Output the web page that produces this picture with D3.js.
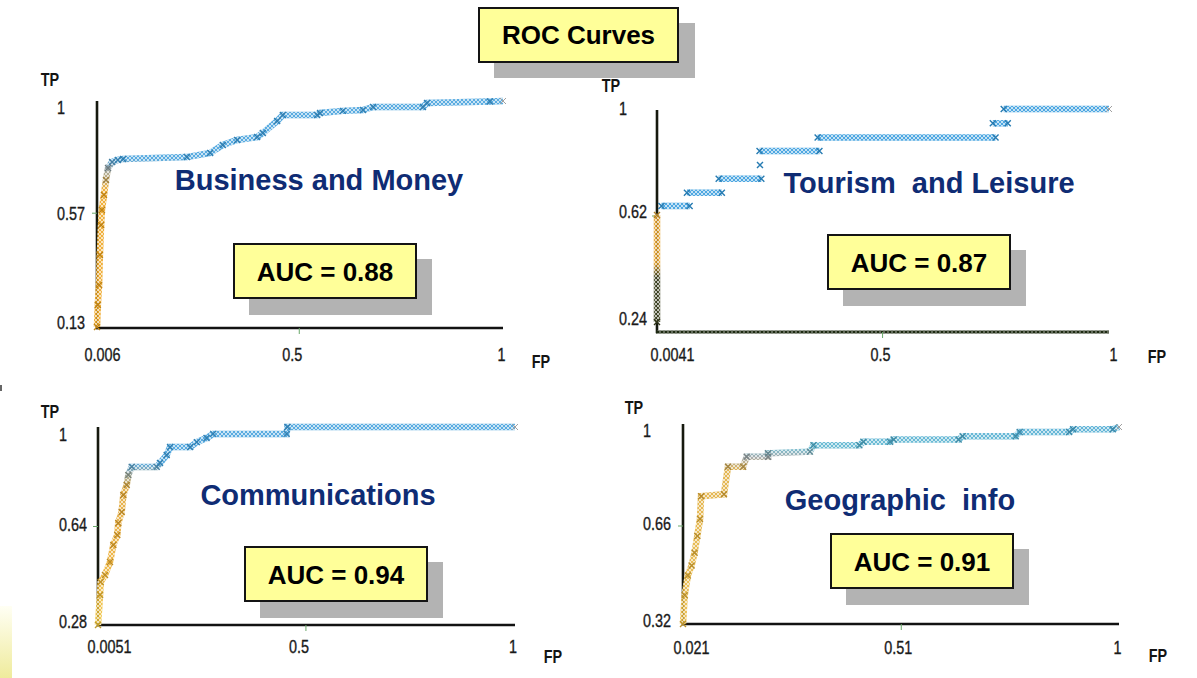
<!DOCTYPE html>
<html>
<head>
<meta charset="utf-8">
<script src="https://cdn.jsdelivr.net/npm/d3@7"></script>
<style>
  html, body { margin: 0; padding: 0; background: #fff; }
  svg { display: block; }
  text { font-family: "Liberation Sans", Arial, sans-serif; }
</style>
</head>
<body>
<svg id="chart" width="1197" height="678"></svg>
<script>
// ---------- data ----------
const chartTitle = "ROC Curves";
const panelTitles = ["Business and Money", "Tourism  and Leisure", "Communications", "Geographic  info"];
const aucValues = [0.88, 0.87, 0.94, 0.91];
const fpTicks = [[0.006, 0.5, 1], [0.0041, 0.5, 1], [0.0051, 0.5, 1], [0.021, 0.51, 1]];
const tpTicks = [[0.13, 0.57, 1], [0.24, 0.62, 1], [0.28, 0.64, 1], [0.32, 0.66, 1]];

// ROC points as [FP, TP]; each panel holds one or more runs of points
const businessRuns = [[
  [0.006, 0.13], [0.008, 0.215], [0.011, 0.292], [0.013, 0.407], [0.016, 0.523], [0.018, 0.580],
  [0.023, 0.638], [0.028, 0.696], [0.033, 0.742], [0.043, 0.765], [0.057, 0.773], [0.070, 0.777],
  [0.226, 0.784], [0.283, 0.800], [0.314, 0.831], [0.349, 0.850], [0.398, 0.861], [0.412, 0.877],
  [0.447, 0.923], [0.461, 0.946], [0.545, 0.946], [0.552, 0.954], [0.608, 0.962], [0.657, 0.965],
  [0.682, 0.977], [0.804, 0.977], [0.814, 0.992], [0.968, 0.998], [1, 1]
]];
const tourismRuns = [
  [[0.0041, 0.24], [0.0041, 0.622]],
  [[0.014, 0.654], [0.076, 0.654]],
  [[0.070, 0.701], [0.147, 0.701]],
  [[0.140, 0.751], [0.234, 0.751]],
  [[0.231, 0.800]],
  [[0.230, 0.850], [0.362, 0.850]],
  [[0.358, 0.898], [0.750, 0.898]],
  [[0.744, 0.949], [0.777, 0.949]],
  [[0.768, 1], [1, 1]]
];
const communicationsRuns = [[
  [0.0051, 0.28], [0.0099, 0.389], [0.0115, 0.436], [0.0218, 0.462], [0.0337, 0.509], [0.0416, 0.571],
  [0.0511, 0.607], [0.0535, 0.651], [0.0616, 0.691], [0.0655, 0.753], [0.0736, 0.789], [0.0774, 0.825],
  [0.0855, 0.855], [0.1452, 0.855], [0.153, 0.869], [0.169, 0.898], [0.177, 0.927], [0.225, 0.927],
  [0.241, 0.945], [0.264, 0.960], [0.280, 0.975], [0.455, 0.975], [0.457, 1], [1, 1]
]];
const geographicRuns = [[
  [0.021, 0.32], [0.0248, 0.419], [0.0318, 0.487], [0.0403, 0.522], [0.047, 0.566], [0.0531, 0.624],
  [0.0592, 0.682], [0.0616, 0.761], [0.113, 0.768], [0.122, 0.863], [0.156, 0.863], [0.164, 0.897],
  [0.212, 0.897], [0.212, 0.909], [0.306, 0.915], [0.314, 0.937], [0.417, 0.937], [0.426, 0.949],
  [0.486, 0.949], [0.494, 0.957], [0.640, 0.957], [0.649, 0.968], [0.768, 0.968], [0.777, 0.983],
  [0.888, 0.983], [0.897, 0.992], [0.986, 0.992], [1, 1]
]];
const panelRuns = [businessRuns, tourismRuns, communicationsRuns, geographicRuns];

// ---------- layout & style ----------
const layout = [
  { xRange: [97, 503], yRange: [327, 101], axisTop: 101, axisY: 328,
    yLabelX: 57, yLabelDy: [-5, 0, 6], xLabelY: 355, xLabelDx: [-13, -7, -2],
    tp: [50, 80], fp: [541, 362], titleAt: [319, 190], box: [234, 244], hatchAxis: false,
    stops: [[0.13, "#eda21a"], [0.66, "#eda21a"], [0.74, "#8c9a9c"], [0.775, "#3d9ddb"], [1, "#3d9ddb"]] },
  { xRange: [657, 1109], yRange: [322, 109], axisTop: 110, axisY: 332,
    yLabelX: 619, yLabelDy: [-4, -4.5, -1], xLabelY: 355, xLabelDx: [-7, -2, 4],
    tp: [611, 86], fp: [1157, 357], titleAt: [929, 193], box: [828, 235], hatchAxis: true,
    stops: [[0.24, "#3d4220"], [0.40, "#3d4220"], [0.45, "#e39e26"], [0.62, "#e39e26"], [0.645, "#2f98dc"], [1, "#2f98dc"]] },
  { xRange: [98, 515], yRange: [625, 427], axisTop: 427, axisY: 625,
    yLabelX: 59, yLabelDy: [-4, -2, 7], xLabelY: 647, xLabelDx: [-11, -7, -2.5],
    tp: [50, 412], fp: [553, 657], titleAt: [318, 505], box: [245, 547], hatchAxis: false,
    stops: [[0.28, "#eec23a"], [0.55, "#eaa82a"], [0.78, "#e0a430"], [0.83, "#8a9c98"], [0.87, "#3d9ddb"], [1, "#3d9ddb"]] },
  { xRange: [683, 1119], yRange: [624, 427], axisTop: 424, axisY: 624,
    yLabelX: 643, yLabelDy: [-4, -2.5, 3], xLabelY: 648, xLabelDx: [-10, -3, -2],
    tp: [634, 408], fp: [1158, 656], titleAt: [900, 510], box: [831, 534], hatchAxis: false,
    stops: [[0.32, "#e8b63a"], [0.85, "#dfa935"], [0.895, "#9aa0a0"], [0.93, "#55b2cc"], [1, "#48a8d2"]] }
];
const NARROW = 0.8;          // horizontal squeeze for the narrow axis lettering
const BOX_W = 182, BOX_H = 54;
const BAND = 6.5;

const svg = d3.select("#chart");
const defs = svg.append("defs");

// cross-hatch used to give the curve bands their chain-like texture
const hatch = defs.append("pattern").attr("id", "hatch")
  .attr("patternUnits", "userSpaceOnUse").attr("width", 4).attr("height", 4);
hatch.append("path").attr("d", "M0,0L4,4M4,0L0,4")
  .attr("stroke", "#fff").attr("stroke-width", 0.9).attr("stroke-opacity", 0.75);

// faint yellow strip at the lower left edge
const strip = defs.append("linearGradient").attr("id", "strip")
  .attr("x1", 0).attr("x2", 0).attr("y1", 0).attr("y2", 1);
strip.append("stop").attr("offset", 0).attr("stop-color", "#fffff4");
strip.append("stop").attr("offset", 1).attr("stop-color", "#efeb9c");
svg.append("rect").attr("x", 0).attr("y", 606).attr("width", 12).attr("height", 72).attr("fill", "url(#strip)");
svg.append("rect").attr("x", 0).attr("y", 385).attr("width", 2).attr("height", 6).attr("fill", "#666");

function narrowText(parent, x, y, str, size, weight, anchor) {
  return parent.append("text")
    .attr("transform", `translate(${x},${y}) scale(${NARROW},1)`)
    .attr("text-anchor", anchor || "middle")
    .attr("dy", "0.35em")
    .attr("font-size", size).attr("font-weight", weight || "normal")
    .attr("fill", "#141414")
    .text(str);
}

function xMark() {
  const s = 3;
  return `M${-s},${-s}L${s},${s}M${-s},${s}L${s},${-s}`;
}

function styleTickText(sel) {
  sel.attr("dy", "0.35em")
    .attr("transform", `scale(${NARROW},1)`)
    .attr("font-size", 18).attr("font-family", "Liberation Sans, Arial, sans-serif")
    .attr("fill", "#1a1a1a").attr("stroke", "#1a1a1a").attr("stroke-width", 0.35);
}

layout.forEach((L, i) => {
  const fpMin = fpTicks[i][0], tpMin = tpTicks[i][0];
  const x = d3.scaleLinear().domain([fpMin, 1]).range(L.xRange);
  const y = d3.scaleLinear().domain([tpMin, 1]).range(L.yRange);
  const g = svg.append("g");

  // axis lines
  g.append("line").attr("x1", L.xRange[0]).attr("x2", L.xRange[0])
    .attr("y1", L.axisTop).attr("y2", L.axisY + 1.2)
    .attr("stroke", "#16190f").attr("stroke-width", 2.6);
  const xLine = g.append("line").attr("x1", L.xRange[0] - 1).attr("x2", L.xRange[1])
    .attr("y1", L.axisY).attr("y2", L.axisY)
    .attr("stroke", "#121212").attr("stroke-width", 2.6);
  if (L.hatchAxis) {
    xLine.attr("stroke", "#1e2a12").attr("stroke-width", 3);
    g.append("line").attr("x1", L.xRange[0]).attr("x2", L.xRange[1])
      .attr("y1", L.axisY).attr("y2", L.axisY)
      .attr("stroke", "url(#hatch)").attr("stroke-width", 3).attr("opacity", 0.45);
  }

  // y axis ticks and labels
  const yAxis = g.append("g").attr("transform", `translate(${L.xRange[0]},0)`)
    .call(d3.axisLeft(y).tickValues(tpTicks[i]).tickSize(5).tickSizeOuter(0).tickFormat(d => String(d)));
  yAxis.select(".domain").remove();
  yAxis.selectAll(".tick line").attr("stroke", "#6aa86a").attr("stroke-width", 1)
    .attr("opacity", (d, k) => k === 1 ? 1 : 0);
  yAxis.selectAll(".tick text")
    .attr("text-anchor", "start")
    .attr("x", (L.yLabelX - L.xRange[0]) / NARROW)
    .attr("y", (d, k) => L.yLabelDy[k])
    .call(styleTickText);

  // x axis ticks and labels
  const xAxis = g.append("g").attr("transform", `translate(0,${L.axisY})`)
    .call(d3.axisBottom(x).tickValues(fpTicks[i]).tickSize(6).tickSizeOuter(0).tickFormat(d => String(d)));
  xAxis.select(".domain").remove();
  xAxis.selectAll(".tick line").attr("stroke", "#6aa86a").attr("stroke-width", 1)
    .attr("opacity", (d, k) => k === 1 ? 1 : 0);
  xAxis.selectAll(".tick text")
    .attr("text-anchor", (d, k) => k === 0 ? "start" : "middle")
    .attr("x", (d, k) => L.xLabelDx[k] / NARROW)
    .attr("y", L.xLabelY - L.axisY)
    .call(styleTickText);

  // axis names
  narrowText(g, L.tp[0], L.tp[1], "TP", 18, "bold");
  narrowText(g, L.fp[0], L.fp[1], "FP", 18, "bold");

  // curve colour runs from warm (low TP) to blue (high TP)
  const gradId = "curveGrad" + i;
  const grad = defs.append("linearGradient").attr("id", gradId)
    .attr("gradientUnits", "userSpaceOnUse")
    .attr("x1", 0).attr("x2", 0).attr("y1", y(tpMin)).attr("y2", y(1));
  L.stops.forEach(([t, c]) => grad.append("stop")
    .attr("offset", (t - tpMin) / (1 - tpMin)).attr("stop-color", c));
  const colorAt = d3.scaleLinear().domain(L.stops.map(s => s[0])).range(L.stops.map(s => s[1])).clamp(true);

  const line = d3.line().x(d => x(d[0])).y(d => y(d[1]));
  const runs = panelRuns[i];
  runs.forEach(run => {
    if (run.length < 2) return;
    g.append("path").attr("d", line(run)).attr("fill", "none")
      .attr("stroke", `url(#${gradId})`).attr("stroke-width", BAND).attr("opacity", 0.85);
    g.append("path").attr("d", line(run)).attr("fill", "none")
      .attr("stroke", "url(#hatch)").attr("stroke-width", BAND);
  });

  // point markers
  const lastRun = runs[runs.length - 1];
  const lastPt = lastRun[lastRun.length - 1];
  runs.forEach(run => {
    g.selectAll(null).data(run).enter().append("path")
      .attr("transform", d => `translate(${x(d[0])},${y(d[1])})`)
      .attr("d", xMark)
      .attr("fill", "none")
      .attr("stroke", d => d === lastPt ? "#a0a0a0" : d3.color(colorAt(d[1])).darker(0.6))
      .attr("stroke-width", d => d === lastPt ? 1 : 1.4);
  });

  // panel title
  g.append("text").attr("x", L.titleAt[0]).attr("y", L.titleAt[1])
    .attr("text-anchor", "middle").attr("font-size", 29).attr("font-weight", "bold")
    .attr("fill", "#0f2c74").style("white-space", "pre")
    .text(panelTitles[i]);

  // AUC call-out with drop shadow
  const [bx, by] = L.box;
  g.append("rect").attr("x", bx + 15).attr("y", by + 15).attr("width", BOX_W + 1).attr("height", BOX_H + 2)
    .attr("fill", "#b3b3b3");
  g.append("rect").attr("x", bx).attr("y", by).attr("width", BOX_W).attr("height", BOX_H)
    .attr("fill", "#ffff99").attr("stroke", "#141414").attr("stroke-width", 2);
  g.append("text").attr("x", bx + BOX_W / 2).attr("y", by + BOX_H / 2 + 10)
    .attr("text-anchor", "middle").attr("font-size", 26).attr("font-weight", "bold")
    .attr("fill", "#000")
    .text("AUC = " + d3.format(".2f")(aucValues[i]));
});

// main title box
const tb = svg.append("g");
tb.append("rect").attr("x", 494).attr("y", 23).attr("width", 201).attr("height", 55).attr("fill", "#b3b3b3");
tb.append("rect").attr("x", 479).attr("y", 8).attr("width", 199).attr("height", 54)
  .attr("fill", "#ffff99").attr("stroke", "#141414").attr("stroke-width", 2);
tb.append("text").attr("x", 578.5).attr("y", 44).attr("text-anchor", "middle")
  .attr("font-size", 26).attr("font-weight", "bold").attr("fill", "#000").text(chartTitle);
</script>
</body>
</html>
